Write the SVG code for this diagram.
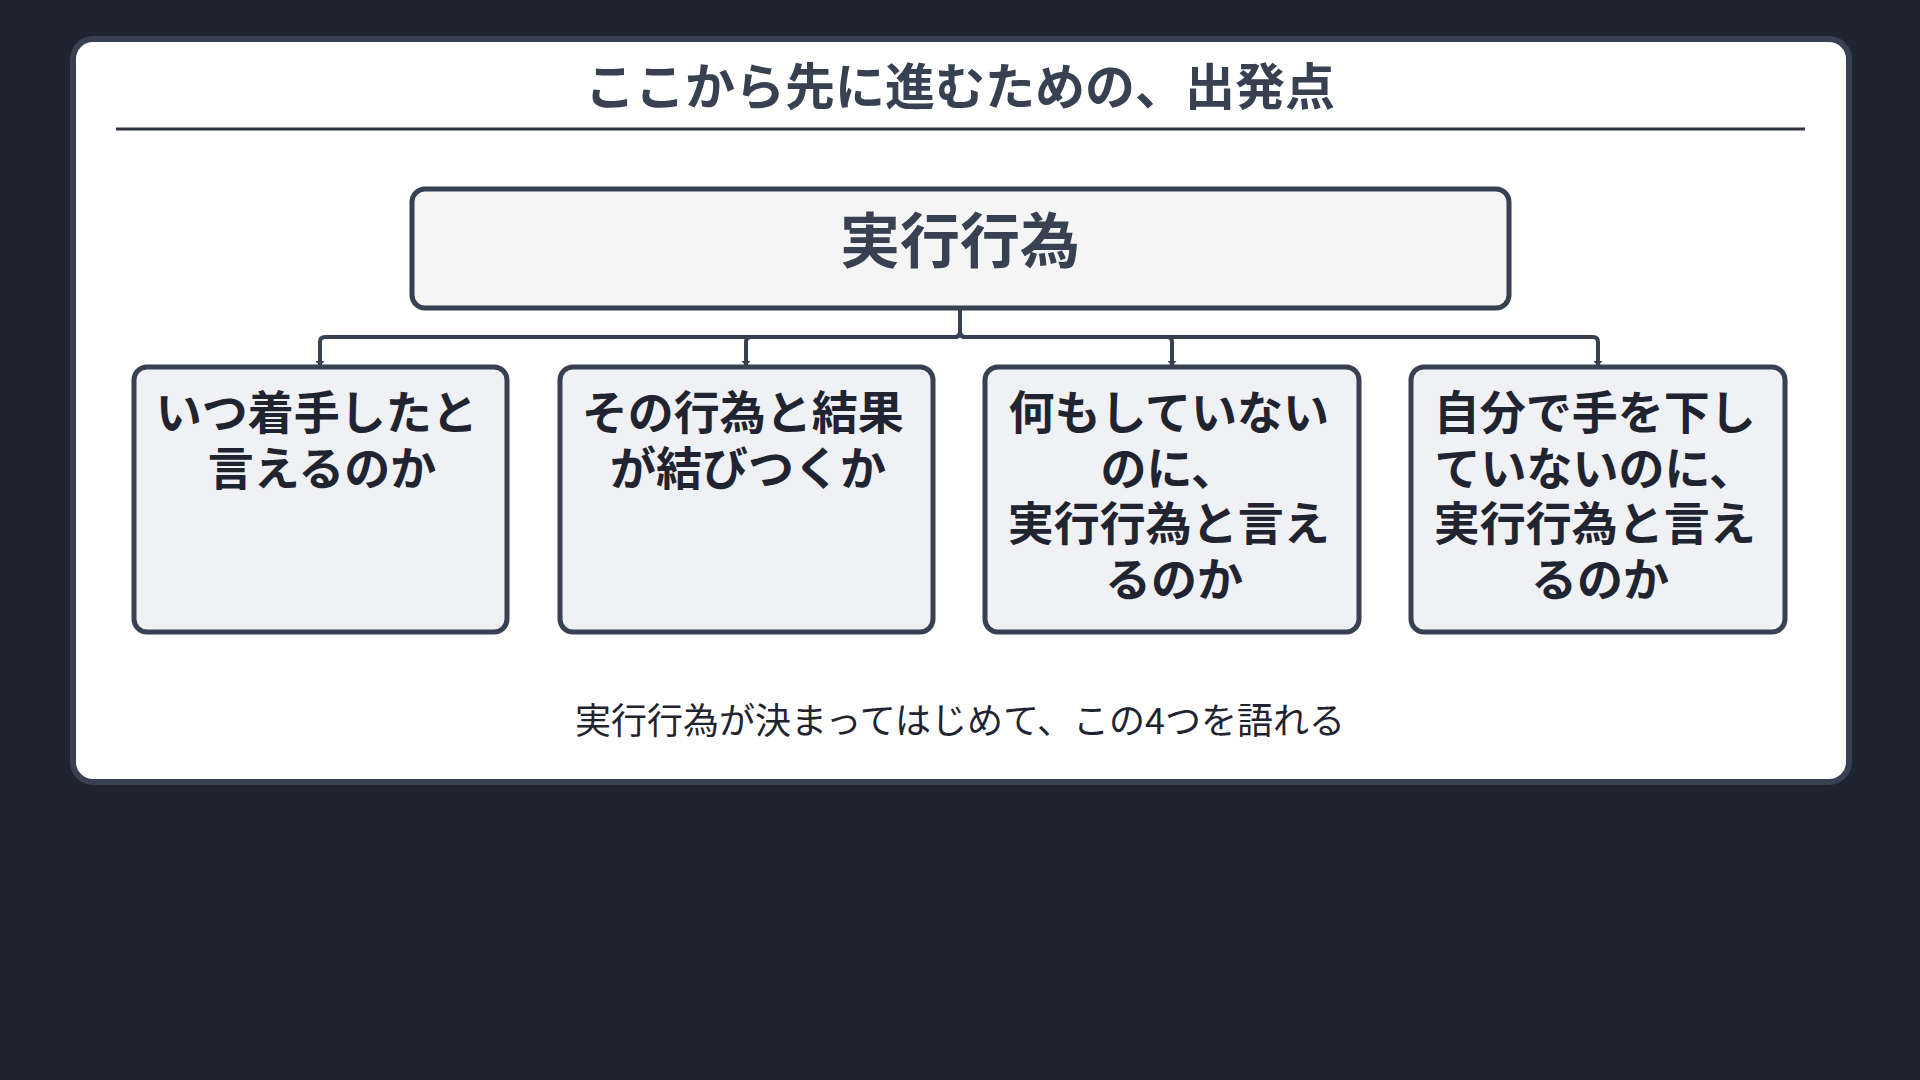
<svg xmlns="http://www.w3.org/2000/svg" width="1920" height="1080" viewBox="0 0 1920 1080">
  <defs>
    <style>
      .jp { font-family: "Noto Sans CJK JP", "Noto Sans", sans-serif; }
      .title { font-size: 50px; font-weight: 700; fill: #374151; }
      .root-label { font-size: 60px; font-weight: 700; fill: #374151; }
      .child-label { font-size: 46px; font-weight: 700; fill: #1f2430; }
      .footer { font-size: 36px; font-weight: 400; fill: #1f2430; }
      .child { fill: #f0f1f5; stroke: #374151; stroke-width: 5; }
      .root { fill: #f5f5f5; stroke: #374151; stroke-width: 5; }
      .edge { fill: none; stroke: #374151; stroke-width: 4; }
    </style>
    <marker id="arrow" viewBox="0 0 5 9" refX="5" refY="4.5" markerWidth="5" markerHeight="9" markerUnits="userSpaceOnUse" orient="auto">
      <path d="M0,0 L5,4.5 L0,9 z" fill="#374151"/>
    </marker>
  </defs>

  <rect x="0" y="0" width="1920" height="1080" fill="#1e2430"/>

  <g id="panel">
    <rect x="73" y="39" width="1776" height="743" rx="20" ry="20" fill="#ffffff" stroke="#374151" stroke-width="6"/>
    <text class="jp title" x="960" y="105" text-anchor="middle">ここから先に進むための、出発点</text>
    <line x1="116" y1="129" x2="1805" y2="129" stroke="#2d3440" stroke-width="3"/>
  </g>

  <g id="connectors">
    <path class="edge" d="M960,310 V332 Q960,337 955,337 H325 Q320,337 320,342 V366" marker-end="url(#arrow)"/>
    <path class="edge" d="M960,310 V332 Q960,337 955,337 H751 Q746,337 746,342 V366" marker-end="url(#arrow)"/>
    <path class="edge" d="M960,310 V332 Q960,337 965,337 H1167 Q1172,337 1172,342 V366" marker-end="url(#arrow)"/>
    <path class="edge" d="M960,310 V332 Q960,337 965,337 H1593 Q1598,337 1598,342 V366" marker-end="url(#arrow)"/>
  </g>

  <g id="node-root">
    <rect class="root" x="412" y="189" width="1097" height="119" rx="13" ry="13"/>
    <text class="jp root-label" x="960" y="263" text-anchor="middle">実行行為</text>
  </g>

  <g id="node-1">
    <rect class="child" x="134" y="367" width="373" height="265" rx="13" ry="13"/>
    <text class="jp child-label" text-anchor="middle">
      <tspan x="322" y="429">いつ着手したと</tspan>
      <tspan x="322" y="484.5">言えるのか</tspan>
    </text>
  </g>

  <g id="node-2">
    <rect class="child" x="560" y="367" width="373" height="265" rx="13" ry="13"/>
    <text class="jp child-label" text-anchor="middle">
      <tspan x="748" y="429">その行為と結果</tspan>
      <tspan x="748" y="484.5">が結びつくか</tspan>
    </text>
  </g>

  <g id="node-3">
    <rect class="child" x="985" y="367" width="374" height="265" rx="13" ry="13"/>
    <text class="jp child-label" text-anchor="middle">
      <tspan x="1174" y="429">何もしていない</tspan>
      <tspan x="1174" y="484.5">のに、</tspan>
      <tspan x="1174" y="540">実行行為と言え</tspan>
      <tspan x="1174" y="595.5">るのか</tspan>
    </text>
  </g>

  <g id="node-4">
    <rect class="child" x="1411" y="367" width="374" height="265" rx="13" ry="13"/>
    <text class="jp child-label" text-anchor="middle">
      <tspan x="1600" y="429">自分で手を下し</tspan>
      <tspan x="1600" y="484.5">ていないのに、</tspan>
      <tspan x="1600" y="540">実行行為と言え</tspan>
      <tspan x="1600" y="595.5">るのか</tspan>
    </text>
  </g>

  <g id="footer">
    <text class="jp footer" x="960" y="734" text-anchor="middle">実行行為が決まってはじめて、この4つを語れる</text>
  </g>
</svg>
